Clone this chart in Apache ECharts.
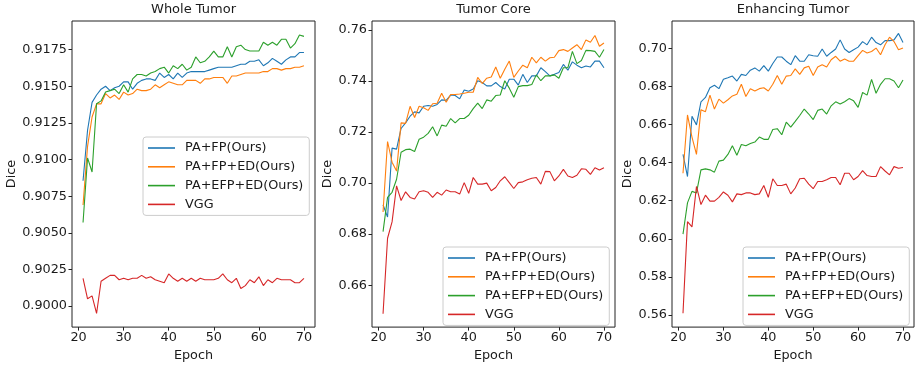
<!DOCTYPE html>
<html>
<head>
<meta charset="utf-8">
<script src="https://cdn.jsdelivr.net/npm/echarts@6/dist/echarts.min.js"></script>
<style>
html, body { margin: 0; padding: 0; background: #fff; }
#chart { width: 915px; height: 367px; }
</style>
</head>
<body>
<div id="chart"></div>
<script>
const epochs = [21, 22, 23, 24, 25, 26, 27, 28, 29, 30, 31, 32, 33, 34, 35, 36, 37, 38, 39, 40,
    41, 42, 43, 44, 45, 46, 47, 48, 49, 50, 51, 52, 53, 54, 55, 56, 57, 58, 59, 60,
    61, 62, 63, 64, 65, 66, 67, 68, 69, 70];
const seriesNames = ["PA+FP(Ours)", "PA+FP+ED(Ours)", "PA+EFP+ED(Ours)", "VGG"];
const panelTitles = ["Whole Tumor", "Tumor Core", "Enhancing Tumor"];
const xTicks = [20, 30, 40, 50, 60, 70];
const wtTicks = [0.9000, 0.9025, 0.9050, 0.9075, 0.9100, 0.9125, 0.9150, 0.9175];
const tcTicks = [0.66, 0.68, 0.70, 0.72, 0.74, 0.76];
const etTicks = [0.56, 0.58, 0.60, 0.62, 0.64, 0.66, 0.68, 0.70];

// Whole Tumor
const wtFP = [0.90855, 0.9120, 0.9139, 0.9144, 0.9148, 0.9150, 0.9147, 0.9149, 0.9150, 0.9153,
    0.9153, 0.9148, 0.9152, 0.9154, 0.9155, 0.9155, 0.9154, 0.9159, 0.9156, 0.9158,
    0.9155, 0.9159, 0.9156, 0.9159, 0.9160, 0.9160, 0.9160, 0.9160, 0.9161, 0.9162,
    0.9163, 0.9163, 0.9163, 0.9163, 0.9164, 0.9165, 0.9165, 0.9167, 0.9167, 0.9168,
    0.9164, 0.9166, 0.9169, 0.9167, 0.9165, 0.9168, 0.9170, 0.9170, 0.9173, 0.9173];
const wtFPED = [0.9069, 0.9109, 0.9129, 0.9138, 0.9138, 0.9145, 0.9142, 0.9144, 0.9141, 0.9146,
    0.9144, 0.9145, 0.9148, 0.9147, 0.9147, 0.9148, 0.9151, 0.9149, 0.9151, 0.9153,
    0.9152, 0.9151, 0.9151, 0.9154, 0.9154, 0.9154, 0.9152, 0.9155, 0.9155, 0.9156,
    0.9156, 0.9156, 0.9152, 0.9157, 0.9157, 0.9158, 0.9159, 0.9159, 0.9159, 0.9159,
    0.9160, 0.9160, 0.9162, 0.9162, 0.9161, 0.9162, 0.9162, 0.9163, 0.9163, 0.9164];
const wtEFPED = [0.9057, 0.91011, 0.90915, 0.9138, 0.9140, 0.9146, 0.9147, 0.9148, 0.9145, 0.9151,
    0.9146, 0.9155, 0.9158, 0.9158, 0.9157, 0.9159, 0.9160, 0.9162, 0.9163, 0.9159,
    0.9164, 0.9162, 0.9165, 0.9161, 0.9163, 0.9170, 0.9166, 0.9167, 0.9170, 0.9174,
    0.9170, 0.9170, 0.9177, 0.9170, 0.9177, 0.9178, 0.9175, 0.9174, 0.9174, 0.9174,
    0.9180, 0.9178, 0.9180, 0.9178, 0.9182, 0.9182, 0.9176, 0.9179, 0.9185, 0.9184];
const wtVGG = [0.9019, 0.9005, 0.9007, 0.8995, 0.9017, 0.9019, 0.9021, 0.9021, 0.9018, 0.9019,
    0.9018, 0.9019, 0.9019, 0.9021, 0.9019, 0.9020, 0.9018, 0.9017, 0.9016, 0.9022,
    0.9019, 0.9017, 0.9019, 0.9017, 0.9019, 0.9017, 0.9019, 0.9018, 0.9018, 0.9018,
    0.9019, 0.9022, 0.9018, 0.9016, 0.9019, 0.9012, 0.9014, 0.9018, 0.9016, 0.9020,
    0.9014, 0.9018, 0.9016, 0.9019, 0.9018, 0.9018, 0.9018, 0.9016, 0.9016, 0.9019];

// Tumor Core
const tcFP = [0.6915, 0.6867, 0.7137, 0.7133, 0.7214, 0.7236, 0.7262, 0.7279, 0.7275, 0.7301,
    0.7304, 0.7301, 0.7308, 0.7326, 0.7324, 0.7345, 0.7343, 0.7330, 0.7365, 0.7360,
    0.7369, 0.7401, 0.7394, 0.7381, 0.7381, 0.7394, 0.7378, 0.7369, 0.7407, 0.7407,
    0.7384, 0.7426, 0.7394, 0.7420, 0.7420, 0.7452, 0.7437, 0.7420, 0.7426, 0.7433,
    0.7465, 0.7442, 0.7475, 0.7462, 0.7452, 0.7459, 0.7455, 0.7478, 0.7478, 0.7452];
const tcFPED = [0.6887, 0.7163, 0.7082, 0.7047, 0.7236, 0.7234, 0.7301, 0.7257, 0.7301, 0.7295,
    0.7285, 0.7311, 0.7313, 0.7352, 0.7317, 0.7347, 0.7347, 0.7349, 0.7352, 0.7356,
    0.7356, 0.7414, 0.7390, 0.7411, 0.7416, 0.7455, 0.7411, 0.7446, 0.7478, 0.7414,
    0.7439, 0.7462, 0.7452, 0.7493, 0.7471, 0.7493, 0.7478, 0.7491, 0.7493, 0.7519,
    0.7523, 0.7516, 0.7529, 0.7542, 0.7523, 0.7561, 0.7552, 0.7578, 0.7536, 0.7549];
const tcEFPED = [0.6810, 0.6944, 0.6964, 0.7015, 0.7121, 0.7131, 0.7133, 0.7124, 0.7172, 0.7180,
    0.7195, 0.7221, 0.7185, 0.7227, 0.7223, 0.7253, 0.7236, 0.7253, 0.7253, 0.7266,
    0.7292, 0.7313, 0.7292, 0.7326, 0.7321, 0.7343, 0.7345, 0.7401, 0.7372, 0.7336,
    0.7378, 0.7382, 0.7382, 0.7386, 0.7424, 0.7401, 0.7420, 0.7420, 0.7424, 0.7411,
    0.7452, 0.7452, 0.7516, 0.7468, 0.7480, 0.7520, 0.7519, 0.7516, 0.7493, 0.7523];
const tcVGG = [0.6488, 0.6784, 0.6848, 0.6989, 0.6932, 0.6966, 0.6944, 0.6938, 0.6966, 0.6970,
    0.6964, 0.6944, 0.6964, 0.6953, 0.6973, 0.6966, 0.6966, 0.6957, 0.7002, 0.6960,
    0.7022, 0.6996, 0.6996, 0.7000, 0.6970, 0.6983, 0.7009, 0.7025, 0.7002, 0.6979,
    0.7002, 0.7005, 0.7013, 0.7019, 0.7022, 0.6996, 0.7046, 0.7045, 0.7009, 0.7028,
    0.7054, 0.7028, 0.7022, 0.7031, 0.7056, 0.7054, 0.7034, 0.7060, 0.7051, 0.7060];

// Enhancing Tumor
const etFP = [0.6443, 0.6327, 0.6643, 0.6598, 0.6719, 0.6742, 0.6793, 0.6806, 0.6788, 0.6837,
    0.6845, 0.6854, 0.6828, 0.6863, 0.6857, 0.6885, 0.6897, 0.6880, 0.6909, 0.6880,
    0.6920, 0.6954, 0.6954, 0.6932, 0.6914, 0.6961, 0.6932, 0.6932, 0.6966, 0.6961,
    0.6958, 0.6996, 0.6958, 0.6978, 0.6996, 0.7044, 0.6996, 0.6978, 0.6992, 0.7006,
    0.7035, 0.7018, 0.7058, 0.7030, 0.7018, 0.7040, 0.7040, 0.7044, 0.7078, 0.7030];
const etFPED = [0.6344, 0.6650, 0.6534, 0.6443, 0.6678, 0.6667, 0.6754, 0.6681, 0.6733, 0.6712,
    0.6730, 0.6750, 0.6759, 0.6811, 0.6747, 0.6788, 0.6776, 0.6788, 0.6793, 0.6776,
    0.6811, 0.6857, 0.6811, 0.6854, 0.6857, 0.6892, 0.6863, 0.6897, 0.6906, 0.6857,
    0.6902, 0.6914, 0.6902, 0.6940, 0.6958, 0.6932, 0.6944, 0.6932, 0.6932, 0.6961,
    0.6989, 0.6975, 0.6983, 0.7001, 0.6966, 0.7018, 0.7058, 0.7035, 0.6992, 0.7001];
const etEFPED = [0.6025, 0.6189, 0.6249, 0.6241, 0.6362, 0.6367, 0.6362, 0.6350, 0.6408, 0.6413,
    0.6443, 0.6488, 0.6439, 0.6495, 0.6488, 0.6500, 0.6508, 0.6534, 0.6522, 0.6522,
    0.6574, 0.6578, 0.6546, 0.6612, 0.6586, 0.6616, 0.6647, 0.6681, 0.6655, 0.6626,
    0.6674, 0.6681, 0.6655, 0.6698, 0.6719, 0.6707, 0.6719, 0.6736, 0.6724, 0.6690,
    0.6768, 0.6754, 0.6837, 0.6764, 0.6811, 0.6840, 0.6840, 0.6828, 0.6793, 0.6833];
const etVGG = [0.5610, 0.6090, 0.6063, 0.6275, 0.6180, 0.6229, 0.6198, 0.6198, 0.6218, 0.6246,
    0.6229, 0.6194, 0.6236, 0.6232, 0.6241, 0.6241, 0.6232, 0.6236, 0.6280, 0.6218,
    0.6315, 0.6280, 0.6280, 0.6287, 0.6236, 0.6267, 0.6315, 0.6318, 0.6287, 0.6263,
    0.6301, 0.6301, 0.6310, 0.6322, 0.6322, 0.6284, 0.6344, 0.6344, 0.6310, 0.6327,
    0.6358, 0.6332, 0.6327, 0.6327, 0.6379, 0.6356, 0.6336, 0.6379, 0.6370, 0.6374];

const colors = ["#1f77b4", "#ff7f0e", "#2ca02c", "#d62728"];
const font = "DejaVu Sans";
const textColor = "#1a1a1a";

const panels = [
    { data: [wtFP, wtFPED, wtEFPED, wtVGG], ticks: wtTicks, digits: 4, yMin: 0.89857, yMax: 0.91945,
      left: 72, width: 243, nameGap: 53, legendLeft: 143, legendTop: 137 },
    { data: [tcFP, tcFPED, tcEFPED, tcVGG], ticks: tcTicks, digits: 2, yMin: 0.6436, yMax: 0.7635,
      left: 372, width: 243, nameGap: 36, legendLeft: 443, legendTop: 247 },
    { data: [etFP, etFPED, etEFPED, etVGG], ticks: etTicks, digits: 2, yMin: 0.5537, yMax: 0.7143,
      left: 672, width: 242, nameGap: 36, legendLeft: 743, legendTop: 247 },
];

const chart = echarts.init(document.getElementById("chart"), null, { renderer: "canvas" });

const option = {
    animation: false,
    color: colors,
    textStyle: { fontFamily: font },
    title: panels.map((p, i) => ({
        text: panelTitles[i],
        left: p.left + p.width / 2,
        top: 3,
        padding: 0,
        textAlign: "center",
        textStyle: { fontFamily: font, fontSize: 13, fontWeight: "normal", color: textColor },
    })),
    grid: panels.map((p) => ({
        left: p.left,
        width: p.width,
        top: 21,
        bottom: 35,
        show: true,
        borderColor: "#222",
        borderWidth: 1,
        backgroundColor: "transparent",
    })),
    legend: panels.map((p) => ({
        data: seriesNames,
        orient: "vertical",
        left: p.legendLeft,
        top: p.legendTop,
        padding: [4, 6, 4, 5],
        itemGap: 4.8,
        itemWidth: 27,
        itemHeight: 1.6,
        icon: "rect",
        backgroundColor: "rgba(255,255,255,0.85)",
        borderColor: "#cccccc",
        borderWidth: 1,
        borderRadius: 3,
        selectedMode: false,
        textStyle: { fontFamily: font, fontSize: 12.8, color: textColor, lineHeight: 14, padding: [0, 0, 0, 5] },
    })),
    xAxis: panels.map((p, i) => ({
        type: "value",
        gridIndex: i,
        min: 18.55,
        max: 72.45,
        name: "Epoch",
        nameLocation: "middle",
        nameGap: 17,
        nameTextStyle: { fontFamily: font, fontSize: 12.8, color: textColor },
        axisLine: { show: false },
        splitLine: { show: false },
        axisTick: { show: true, length: 3.5, customValues: xTicks, lineStyle: { color: "#222" } },
        axisLabel: { customValues: xTicks, margin: 4, fontFamily: font, fontSize: 12.8, color: textColor },
    })),
    yAxis: panels.map((p, i) => ({
        type: "value",
        gridIndex: i,
        min: p.yMin,
        max: p.yMax,
        name: "Dice",
        nameLocation: "middle",
        nameGap: p.nameGap,
        nameTextStyle: { fontFamily: font, fontSize: 12.8, color: textColor },
        axisLine: { show: false },
        splitLine: { show: false },
        axisTick: { show: true, length: 3.5, customValues: p.ticks, lineStyle: { color: "#222" } },
        axisLabel: {
            customValues: p.ticks,
            margin: 5,
            fontFamily: font,
            fontSize: 12.8,
            color: textColor,
            formatter: (v) => Number(v).toFixed(p.digits),
        },
    })),
    series: panels.flatMap((p, i) =>
        p.data.map((vals, k) => ({
            name: seriesNames[k],
            type: "line",
            xAxisIndex: i,
            yAxisIndex: i,
            data: epochs.map((e, j) => [e, vals[j]]),
            symbol: "none",
            lineStyle: { width: 1.1, color: colors[k] },
            itemStyle: { color: colors[k] },
        }))
    ),
};

chart.setOption(option);
</script>
</body>
</html>
